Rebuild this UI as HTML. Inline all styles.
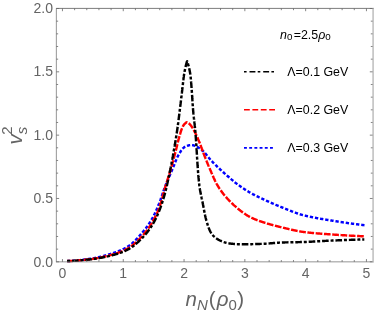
<!DOCTYPE html>
<html><head><meta charset="utf-8"><title>plot</title>
<style>html,body{margin:0;padding:0;background:#fff;}body{width:374px;height:312px;overflow:hidden;position:relative;font-family:"Liberation Sans",sans-serif;}svg{will-change:transform}</style>
</head><body>
<svg width="374" height="312" viewBox="0 0 374 312" style="position:absolute;left:0;top:0">
<rect x="0" y="0" width="374" height="312" fill="#fff"/>
<g fill="none" stroke-linecap="butt" stroke-linejoin="round">
<path d="M67.10,261.10 L67.50,261.09 L67.91,261.07 L68.31,261.06 L68.71,261.04 L69.11,261.02 L69.51,261.00 L69.92,260.98 L70.32,260.96 L70.72,260.94 L71.12,260.91 L71.52,260.89 L71.92,260.86 L72.32,260.83 L72.72,260.80 L73.13,260.77 L73.53,260.74 L73.93,260.71 L74.33,260.68 L74.73,260.65 L75.13,260.61 L75.52,260.57 L75.92,260.54 L76.32,260.50 L76.72,260.46 L77.12,260.42 L77.52,260.38 L77.92,260.34 L78.32,260.30 L78.71,260.26 L79.11,260.21 L79.51,260.17 L79.91,260.13 L80.31,260.08 L80.70,260.03 L81.10,259.99 L81.50,259.94 L81.89,259.89 L82.29,259.84 L82.69,259.79 L83.08,259.74 L83.48,259.69 L83.87,259.64 L84.27,259.59 L84.67,259.54 L85.06,259.49 L85.46,259.43 L85.85,259.38 L86.25,259.33 L86.64,259.27 L87.03,259.22 L87.43,259.16 L87.82,259.11 L88.22,259.05 L88.61,259.00 L89.00,258.94 L89.40,258.89 L89.79,258.83 L90.18,258.77 L90.57,258.72 L90.97,258.66 L91.36,258.59 L91.75,258.53 L92.15,258.47 L92.54,258.40 L92.93,258.33 L93.33,258.26 L93.72,258.19 L94.11,258.12 L94.51,258.05 L94.90,257.97 L95.29,257.89 L95.69,257.82 L96.08,257.74 L96.47,257.65 L96.87,257.57 L97.26,257.49 L97.65,257.40 L98.05,257.32 L98.44,257.23 L98.83,257.14 L99.22,257.05 L99.61,256.96 L100.01,256.86 L100.40,256.77 L100.79,256.67 L101.18,256.58 L101.57,256.48 L101.96,256.38 L102.35,256.28 L102.74,256.18 L103.13,256.08 L103.52,255.97 L103.91,255.87 L104.30,255.76 L104.69,255.66 L105.08,255.55 L105.47,255.44 L105.85,255.33 L106.24,255.22 L106.63,255.11 L107.01,254.99 L107.40,254.88 L107.78,254.77 L108.17,254.65 L108.55,254.53 L108.94,254.42 L109.32,254.30 L109.70,254.18 L110.09,254.06 L110.47,253.94 L110.85,253.82 L111.23,253.70 L111.61,253.57 L111.99,253.45 L112.37,253.33 L112.75,253.20 L113.12,253.08 L113.50,252.95 L113.88,252.83 L114.25,252.70 L114.63,252.57 L115.00,252.44 L115.37,252.31 L115.75,252.18 L116.12,252.05 L116.49,251.92 L116.87,251.78 L117.24,251.64 L117.62,251.50 L117.99,251.36 L118.37,251.21 L118.75,251.06 L119.12,250.91 L119.50,250.76 L119.87,250.60 L120.25,250.44 L120.62,250.28 L120.99,250.12 L121.36,249.95 L121.73,249.78 L122.10,249.61 L122.47,249.44 L122.84,249.26 L123.20,249.09 L123.57,248.91 L123.93,248.72 L124.29,248.54 L124.64,248.35 L125.00,248.17 L125.35,247.98 L125.70,247.78 L126.05,247.59 L126.39,247.39 L126.74,247.19 L127.08,246.99 L127.41,246.79 L127.74,246.58 L128.07,246.38 L128.40,246.17 L128.72,245.96 L129.04,245.74 L129.36,245.52 L129.67,245.29 L129.99,245.06 L130.30,244.83 L130.61,244.59 L130.92,244.35 L131.23,244.10 L131.54,243.85 L131.84,243.59 L132.15,243.33 L132.45,243.07 L132.75,242.81 L133.05,242.54 L133.35,242.27 L133.64,241.99 L133.94,241.72 L134.23,241.44 L134.52,241.16 L134.81,240.87 L135.10,240.58 L135.39,240.30 L135.67,240.01 L135.96,239.71 L136.24,239.42 L136.52,239.12 L136.80,238.83 L137.08,238.53 L137.36,238.23 L137.64,237.93 L137.91,237.63 L138.19,237.33 L138.46,237.03 L138.73,236.72 L139.00,236.42 L139.27,236.12 L139.54,235.82 L139.80,235.51 L140.07,235.21 L140.33,234.91 L140.60,234.61 L140.86,234.31 L141.12,234.01 L141.38,233.71 L141.64,233.41 L141.90,233.11 L142.15,232.81 L142.41,232.50 L142.67,232.20 L142.93,231.89 L143.18,231.59 L143.44,231.28 L143.69,230.97 L143.95,230.66 L144.20,230.34 L144.45,230.03 L144.70,229.72 L144.95,229.40 L145.20,229.08 L145.45,228.76 L145.69,228.45 L145.94,228.12 L146.18,227.80 L146.43,227.48 L146.67,227.16 L146.91,226.83 L147.15,226.51 L147.38,226.18 L147.62,225.85 L147.85,225.53 L148.09,225.20 L148.32,224.87 L148.54,224.54 L148.77,224.20 L149.00,223.87 L149.22,223.54 L149.44,223.20 L149.66,222.87 L149.88,222.53 L150.09,222.20 L150.30,221.86 L150.51,221.52 L150.72,221.18 L150.93,220.84 L151.13,220.50 L151.33,220.16 L151.53,219.82 L151.73,219.48 L151.92,219.14 L152.11,218.79 L152.30,218.44 L152.49,218.10 L152.68,217.75 L152.87,217.40 L153.05,217.04 L153.24,216.69 L153.42,216.34 L153.60,215.98 L153.78,215.62 L153.96,215.27 L154.14,214.91 L154.31,214.55 L154.49,214.19 L154.66,213.83 L154.83,213.46 L155.00,213.10 L155.17,212.74 L155.34,212.37 L155.51,212.01 L155.67,211.64 L155.84,211.27 L156.00,210.91 L156.17,210.54 L156.33,210.17 L156.49,209.80 L156.65,209.43 L156.81,209.06 L156.97,208.69 L157.12,208.32 L157.28,207.95 L157.44,207.58 L157.59,207.21 L157.75,206.83 L157.90,206.46 L158.05,206.09 L158.20,205.72 L158.36,205.35 L158.51,204.98 L158.66,204.61 L158.81,204.23 L158.96,203.86 L159.10,203.49 L159.25,203.12 L159.40,202.75 L159.54,202.38 L159.69,202.01 L159.83,201.63 L159.97,201.26 L160.11,200.89 L160.24,200.51 L160.38,200.13 L160.51,199.76 L160.65,199.38 L160.78,199.00 L160.91,198.63 L161.04,198.25 L161.17,197.87 L161.30,197.49 L161.43,197.11 L161.55,196.73 L161.68,196.35 L161.81,195.97 L161.94,195.59 L162.06,195.21 L162.19,194.83 L162.32,194.45 L162.44,194.07 L162.57,193.69 L162.70,193.31 L162.83,192.93 L162.95,192.55 L163.08,192.17 L163.21,191.79 L163.34,191.42 L163.48,191.04 L163.61,190.66 L163.74,190.28 L163.88,189.91 L164.02,189.53 L164.15,189.16 L164.29,188.78 L164.43,188.41 L164.58,188.04 L164.72,187.66 L164.86,187.29 L165.01,186.92 L165.15,186.54 L165.30,186.17 L165.45,185.80 L165.59,185.43 L165.74,185.06 L165.89,184.69 L166.04,184.31 L166.19,183.94 L166.34,183.57 L166.49,183.20 L166.64,182.83 L166.79,182.46 L166.94,182.09 L167.09,181.72 L167.24,181.35 L167.40,180.98 L167.55,180.61 L167.70,180.24 L167.86,179.87 L168.01,179.50 L168.17,179.13 L168.32,178.77 L168.48,178.40 L168.63,178.03 L168.79,177.66 L168.95,177.29 L169.10,176.92 L169.26,176.55 L169.42,176.19 L169.57,175.82 L169.73,175.45 L169.89,175.08 L170.05,174.71 L170.20,174.35 L170.36,173.98 L170.52,173.61 L170.68,173.24 L170.83,172.88 L170.99,172.51 L171.15,172.14 L171.31,171.77 L171.47,171.41 L171.63,171.04 L171.78,170.67 L171.94,170.30 L172.10,169.93 L172.26,169.57 L172.41,169.20 L172.57,168.83 L172.73,168.46 L172.88,168.09 L173.04,167.72 L173.19,167.35 L173.34,166.97 L173.49,166.60 L173.64,166.22 L173.79,165.85 L173.94,165.47 L174.08,165.10 L174.23,164.72 L174.38,164.34 L174.53,163.96 L174.68,163.58 L174.82,163.21 L174.97,162.83 L175.12,162.45 L175.27,162.08 L175.42,161.70 L175.57,161.33 L175.72,160.95 L175.88,160.58 L176.03,160.20 L176.19,159.83 L176.34,159.46 L176.50,159.10 L176.66,158.73 L176.83,158.36 L176.99,158.00 L177.16,157.64 L177.33,157.28 L177.50,156.92 L177.67,156.56 L177.85,156.21 L178.03,155.86 L178.21,155.51 L178.40,155.16 L178.59,154.82 L178.78,154.48 L178.97,154.14 L179.17,153.81 L179.38,153.48 L179.58,153.14 L179.80,152.79 L180.01,152.44 L180.23,152.09 L180.46,151.73 L180.69,151.38 L180.93,151.02 L181.17,150.66 L181.42,150.31 L181.67,149.97 L181.92,149.63 L182.18,149.30 L182.45,148.98 L182.72,148.67 L182.99,148.37 L183.27,148.08 L183.56,147.82 L183.85,147.57 L184.14,147.34 L184.44,147.13 L184.75,146.94 L185.06,146.77 L185.38,146.61 L185.72,146.45 L186.07,146.30 L186.44,146.14 L186.82,145.99 L187.20,145.84 L187.60,145.71 L188.00,145.58 L188.40,145.46 L188.81,145.35 L189.22,145.25 L189.63,145.17 L190.03,145.10 L190.44,145.05 L190.83,145.01 L191.23,145.00 L191.61,145.01 L192.00,145.05 L192.39,145.11 L192.79,145.19 L193.18,145.29 L193.57,145.40 L193.96,145.53 L194.35,145.67 L194.74,145.81 L195.12,145.95 L195.49,146.10 L195.86,146.25 L196.22,146.39 L196.58,146.54 L196.94,146.71 L197.30,146.89 L197.65,147.08 L198.01,147.28 L198.36,147.48 L198.70,147.70 L199.04,147.92 L199.38,148.15 L199.72,148.38 L200.05,148.62 L200.38,148.85 L200.70,149.10 L201.02,149.34 L201.33,149.58 L201.63,149.83 L201.93,150.07 L202.23,150.32 L202.52,150.58 L202.81,150.85 L203.10,151.11 L203.38,151.39 L203.66,151.67 L203.93,151.95 L204.21,152.24 L204.48,152.53 L204.75,152.82 L205.01,153.12 L205.28,153.42 L205.54,153.72 L205.80,154.03 L206.06,154.34 L206.31,154.65 L206.57,154.96 L206.83,155.28 L207.08,155.59 L207.34,155.91 L207.59,156.22 L207.84,156.54 L208.10,156.86 L208.35,157.17 L208.61,157.49 L208.86,157.81 L209.12,158.12 L209.37,158.43 L209.63,158.75 L209.89,159.06 L210.15,159.37 L210.42,159.67 L210.68,159.98 L210.95,160.28 L211.22,160.57 L211.49,160.87 L211.76,161.16 L212.04,161.45 L212.32,161.73 L212.60,162.02 L212.88,162.30 L213.16,162.59 L213.44,162.87 L213.72,163.16 L214.00,163.44 L214.29,163.72 L214.57,164.00 L214.85,164.29 L215.14,164.57 L215.42,164.85 L215.71,165.13 L216.00,165.41 L216.28,165.69 L216.57,165.97 L216.86,166.24 L217.15,166.52 L217.43,166.80 L217.72,167.08 L218.01,167.35 L218.30,167.63 L218.60,167.90 L218.89,168.18 L219.18,168.45 L219.47,168.73 L219.76,169.00 L220.06,169.27 L220.35,169.55 L220.64,169.82 L220.94,170.09 L221.23,170.36 L221.53,170.63 L221.82,170.90 L222.12,171.17 L222.41,171.44 L222.71,171.71 L223.01,171.98 L223.30,172.25 L223.60,172.52 L223.90,172.78 L224.19,173.05 L224.49,173.32 L224.79,173.58 L225.09,173.85 L225.39,174.11 L225.69,174.38 L225.99,174.64 L226.28,174.91 L226.58,175.17 L226.88,175.44 L227.18,175.70 L227.49,175.97 L227.79,176.23 L228.09,176.50 L228.39,176.76 L228.69,177.03 L228.99,177.29 L229.30,177.55 L229.60,177.81 L229.90,178.08 L230.21,178.34 L230.51,178.60 L230.82,178.86 L231.12,179.12 L231.43,179.38 L231.73,179.64 L232.04,179.89 L232.35,180.15 L232.66,180.41 L232.96,180.66 L233.27,180.92 L233.58,181.17 L233.89,181.43 L234.20,181.68 L234.52,181.93 L234.83,182.18 L235.14,182.43 L235.45,182.68 L235.77,182.92 L236.08,183.17 L236.40,183.41 L236.71,183.66 L237.03,183.90 L237.35,184.14 L237.67,184.38 L237.99,184.62 L238.31,184.86 L238.63,185.09 L238.95,185.33 L239.27,185.56 L239.59,185.80 L239.92,186.03 L240.24,186.26 L240.57,186.50 L240.90,186.73 L241.22,186.96 L241.55,187.19 L241.88,187.42 L242.21,187.65 L242.54,187.87 L242.87,188.10 L243.20,188.32 L243.54,188.55 L243.87,188.77 L244.20,188.99 L244.54,189.21 L244.87,189.43 L245.21,189.65 L245.55,189.87 L245.89,190.09 L246.22,190.30 L246.56,190.52 L246.90,190.73 L247.24,190.94 L247.58,191.15 L247.92,191.36 L248.27,191.57 L248.61,191.77 L248.95,191.97 L249.30,192.18 L249.64,192.38 L249.99,192.58 L250.33,192.77 L250.68,192.97 L251.03,193.17 L251.37,193.36 L251.72,193.55 L252.07,193.74 L252.43,193.93 L252.78,194.12 L253.13,194.30 L253.49,194.49 L253.84,194.67 L254.20,194.86 L254.55,195.04 L254.91,195.22 L255.27,195.40 L255.63,195.58 L255.98,195.76 L256.34,195.93 L256.70,196.11 L257.06,196.29 L257.42,196.46 L257.79,196.64 L258.15,196.81 L258.51,196.98 L258.87,197.16 L259.23,197.33 L259.59,197.50 L259.96,197.67 L260.32,197.84 L260.68,198.01 L261.04,198.18 L261.41,198.35 L261.77,198.52 L262.13,198.69 L262.49,198.86 L262.86,199.03 L263.22,199.20 L263.58,199.37 L263.94,199.54 L264.30,199.71 L264.67,199.88 L265.03,200.05 L265.39,200.21 L265.76,200.38 L266.12,200.55 L266.48,200.72 L266.85,200.88 L267.21,201.05 L267.57,201.21 L267.94,201.38 L268.30,201.55 L268.67,201.71 L269.03,201.88 L269.40,202.04 L269.76,202.20 L270.13,202.37 L270.49,202.53 L270.86,202.69 L271.23,202.86 L271.59,203.02 L271.96,203.18 L272.32,203.34 L272.69,203.50 L273.06,203.66 L273.43,203.82 L273.79,203.98 L274.16,204.14 L274.53,204.30 L274.89,204.46 L275.26,204.61 L275.63,204.77 L276.00,204.93 L276.37,205.08 L276.74,205.24 L277.10,205.40 L277.47,205.55 L277.84,205.70 L278.21,205.86 L278.58,206.01 L278.95,206.16 L279.32,206.32 L279.69,206.47 L280.06,206.62 L280.43,206.77 L280.80,206.92 L281.17,207.07 L281.54,207.22 L281.91,207.37 L282.28,207.51 L282.66,207.66 L283.03,207.81 L283.40,207.96 L283.77,208.11 L284.14,208.26 L284.51,208.41 L284.88,208.56 L285.26,208.71 L285.63,208.86 L286.00,209.02 L286.37,209.17 L286.74,209.32 L287.12,209.47 L287.49,209.62 L287.86,209.77 L288.23,209.92 L288.61,210.07 L288.98,210.22 L289.35,210.37 L289.73,210.52 L290.10,210.67 L290.47,210.82 L290.85,210.97 L291.22,211.12 L291.60,211.26 L291.97,211.41 L292.34,211.55 L292.72,211.70 L293.09,211.84 L293.47,211.98 L293.85,212.13 L294.22,212.27 L294.60,212.41 L294.97,212.54 L295.35,212.68 L295.73,212.82 L296.10,212.95 L296.48,213.09 L296.86,213.22 L297.24,213.35 L297.62,213.48 L297.99,213.61 L298.37,213.73 L298.75,213.86 L299.13,213.98 L299.51,214.10 L299.89,214.22 L300.27,214.34 L300.65,214.45 L301.03,214.57 L301.42,214.68 L301.80,214.79 L302.18,214.89 L302.56,215.00 L302.95,215.10 L303.33,215.20 L303.71,215.30 L304.10,215.40 L304.48,215.50 L304.87,215.59 L305.25,215.69 L305.64,215.78 L306.03,215.87 L306.41,215.96 L306.80,216.05 L307.19,216.14 L307.58,216.23 L307.97,216.32 L308.35,216.40 L308.74,216.49 L309.13,216.57 L309.52,216.66 L309.91,216.74 L310.31,216.82 L310.70,216.91 L311.09,216.99 L311.48,217.07 L311.87,217.15 L312.26,217.22 L312.66,217.30 L313.05,217.38 L313.44,217.46 L313.84,217.53 L314.23,217.61 L314.62,217.68 L315.02,217.76 L315.41,217.83 L315.81,217.91 L316.20,217.98 L316.59,218.05 L316.99,218.12 L317.38,218.19 L317.78,218.26 L318.17,218.33 L318.57,218.40 L318.97,218.47 L319.36,218.54 L319.76,218.61 L320.15,218.68 L320.55,218.75 L320.94,218.82 L321.34,218.88 L321.74,218.95 L322.13,219.02 L322.53,219.08 L322.92,219.15 L323.32,219.22 L323.72,219.28 L324.11,219.35 L324.51,219.41 L324.90,219.48 L325.30,219.54 L325.69,219.61 L326.09,219.67 L326.49,219.74 L326.88,219.80 L327.28,219.87 L327.67,219.93 L328.07,220.00 L328.46,220.06 L328.86,220.13 L329.25,220.19 L329.64,220.26 L330.04,220.32 L330.43,220.39 L330.83,220.45 L331.22,220.51 L331.62,220.58 L332.01,220.64 L332.41,220.71 L332.80,220.77 L333.20,220.83 L333.59,220.90 L333.98,220.96 L334.38,221.02 L334.77,221.08 L335.17,221.15 L335.56,221.21 L335.96,221.27 L336.35,221.33 L336.75,221.40 L337.14,221.46 L337.54,221.52 L337.93,221.58 L338.33,221.64 L338.72,221.70 L339.12,221.76 L339.51,221.83 L339.91,221.89 L340.31,221.95 L340.70,222.01 L341.10,222.07 L341.49,222.13 L341.89,222.19 L342.28,222.24 L342.68,222.30 L343.07,222.36 L343.47,222.42 L343.86,222.48 L344.26,222.54 L344.66,222.60 L345.05,222.66 L345.45,222.71 L345.84,222.77 L346.24,222.83 L346.64,222.89 L347.03,222.94 L347.43,223.00 L347.82,223.06 L348.22,223.11 L348.62,223.17 L349.01,223.22 L349.41,223.28 L349.80,223.33 L350.20,223.39 L350.60,223.44 L350.99,223.50 L351.39,223.55 L351.79,223.61 L352.18,223.66 L352.58,223.72 L352.98,223.77 L353.37,223.82 L353.77,223.88 L354.17,223.93 L354.56,223.98 L354.96,224.03 L355.36,224.09 L355.75,224.14 L356.15,224.19 L356.55,224.24 L356.94,224.29 L357.34,224.34 L357.74,224.39 L358.13,224.44 L358.53,224.49 L358.93,224.54 L359.33,224.59 L359.72,224.64 L360.12,224.69 L360.52,224.74 L360.92,224.79 L361.31,224.83 L361.71,224.88 L362.11,224.93 L362.51,224.98 L362.90,225.02 L363.30,225.07 L363.70,225.12 L364.10,225.16 L364.49,225.21 L364.89,225.25 L365.29,225.30 L365.30,225.30" stroke="#0000ff" stroke-width="2.45" stroke-dasharray="3.3 1.9"/>
<path d="M67.10,261.10 L67.50,261.09 L67.90,261.08 L68.31,261.07 L68.71,261.06 L69.11,261.04 L69.51,261.03 L69.91,261.01 L70.31,260.99 L70.72,260.97 L71.12,260.96 L71.52,260.93 L71.92,260.91 L72.32,260.89 L72.72,260.87 L73.12,260.84 L73.52,260.82 L73.92,260.79 L74.32,260.77 L74.72,260.74 L75.12,260.71 L75.52,260.68 L75.92,260.65 L76.32,260.62 L76.72,260.59 L77.12,260.55 L77.52,260.52 L77.92,260.49 L78.32,260.45 L78.71,260.42 L79.11,260.38 L79.51,260.34 L79.91,260.31 L80.31,260.27 L80.71,260.23 L81.10,260.19 L81.50,260.15 L81.90,260.11 L82.30,260.07 L82.69,260.03 L83.09,259.99 L83.49,259.94 L83.89,259.90 L84.28,259.86 L84.68,259.81 L85.08,259.77 L85.47,259.73 L85.87,259.68 L86.26,259.64 L86.66,259.59 L87.06,259.55 L87.45,259.50 L87.85,259.45 L88.24,259.41 L88.64,259.36 L89.03,259.31 L89.43,259.27 L89.82,259.22 L90.22,259.17 L90.61,259.13 L91.01,259.07 L91.40,259.02 L91.80,258.97 L92.19,258.92 L92.59,258.86 L92.99,258.80 L93.38,258.75 L93.78,258.69 L94.17,258.63 L94.57,258.56 L94.97,258.50 L95.36,258.44 L95.76,258.37 L96.15,258.30 L96.55,258.23 L96.95,258.17 L97.34,258.09 L97.74,258.02 L98.13,257.95 L98.53,257.88 L98.92,257.80 L99.32,257.72 L99.71,257.65 L100.11,257.57 L100.50,257.49 L100.90,257.41 L101.29,257.32 L101.69,257.24 L102.08,257.16 L102.47,257.07 L102.87,256.98 L103.26,256.90 L103.65,256.81 L104.05,256.72 L104.44,256.63 L104.83,256.54 L105.22,256.44 L105.61,256.35 L106.01,256.26 L106.40,256.16 L106.79,256.07 L107.18,255.97 L107.57,255.87 L107.95,255.77 L108.34,255.67 L108.73,255.57 L109.12,255.47 L109.51,255.37 L109.89,255.26 L110.28,255.16 L110.66,255.06 L111.05,254.95 L111.43,254.84 L111.82,254.74 L112.20,254.63 L112.58,254.52 L112.97,254.41 L113.35,254.30 L113.73,254.19 L114.11,254.08 L114.49,253.96 L114.87,253.85 L115.25,253.74 L115.62,253.62 L116.00,253.51 L116.38,253.39 L116.76,253.27 L117.14,253.14 L117.51,253.01 L117.89,252.88 L118.27,252.75 L118.65,252.61 L119.03,252.47 L119.41,252.33 L119.79,252.19 L120.17,252.04 L120.54,251.89 L120.92,251.74 L121.30,251.58 L121.67,251.43 L122.04,251.27 L122.42,251.11 L122.79,250.94 L123.16,250.77 L123.52,250.60 L123.89,250.43 L124.26,250.26 L124.62,250.08 L124.98,249.91 L125.34,249.73 L125.70,249.55 L126.05,249.36 L126.40,249.18 L126.75,248.99 L127.10,248.80 L127.44,248.61 L127.78,248.42 L128.12,248.22 L128.46,248.03 L128.79,247.83 L129.12,247.62 L129.45,247.42 L129.78,247.20 L130.11,246.99 L130.43,246.77 L130.76,246.54 L131.08,246.31 L131.40,246.08 L131.72,245.84 L132.04,245.60 L132.36,245.36 L132.68,245.11 L132.99,244.86 L133.31,244.61 L133.62,244.35 L133.93,244.09 L134.24,243.83 L134.55,243.57 L134.86,243.30 L135.16,243.03 L135.47,242.76 L135.77,242.49 L136.07,242.22 L136.37,241.94 L136.67,241.66 L136.96,241.38 L137.26,241.10 L137.55,240.82 L137.84,240.53 L138.13,240.25 L138.42,239.97 L138.71,239.68 L138.99,239.39 L139.28,239.11 L139.56,238.82 L139.84,238.53 L140.12,238.24 L140.39,237.96 L140.67,237.67 L140.94,237.38 L141.21,237.09 L141.48,236.81 L141.75,236.52 L142.02,236.23 L142.29,235.93 L142.55,235.64 L142.82,235.34 L143.08,235.04 L143.35,234.74 L143.61,234.44 L143.87,234.14 L144.13,233.83 L144.39,233.53 L144.65,233.22 L144.91,232.91 L145.16,232.60 L145.42,232.28 L145.67,231.97 L145.92,231.65 L146.17,231.34 L146.42,231.02 L146.67,230.70 L146.92,230.38 L147.16,230.06 L147.40,229.73 L147.64,229.41 L147.88,229.08 L148.12,228.76 L148.36,228.43 L148.59,228.10 L148.82,227.77 L149.05,227.44 L149.28,227.11 L149.51,226.78 L149.73,226.45 L149.95,226.11 L150.17,225.78 L150.39,225.44 L150.60,225.11 L150.82,224.77 L151.03,224.44 L151.24,224.10 L151.44,223.76 L151.65,223.42 L151.85,223.09 L152.05,222.75 L152.25,222.40 L152.45,222.06 L152.64,221.72 L152.84,221.37 L153.04,221.02 L153.23,220.67 L153.42,220.32 L153.62,219.97 L153.81,219.62 L154.00,219.27 L154.19,218.91 L154.37,218.56 L154.56,218.20 L154.74,217.84 L154.93,217.49 L155.11,217.13 L155.29,216.77 L155.47,216.40 L155.65,216.04 L155.82,215.68 L156.00,215.32 L156.17,214.95 L156.34,214.59 L156.51,214.22 L156.68,213.85 L156.85,213.49 L157.01,213.12 L157.18,212.75 L157.34,212.38 L157.50,212.01 L157.66,211.64 L157.81,211.27 L157.97,210.90 L158.12,210.53 L158.27,210.16 L158.42,209.79 L158.57,209.42 L158.71,209.05 L158.86,208.68 L159.00,208.31 L159.14,207.93 L159.28,207.56 L159.41,207.19 L159.55,206.82 L159.68,206.44 L159.81,206.07 L159.93,205.69 L160.06,205.31 L160.18,204.94 L160.30,204.56 L160.42,204.18 L160.54,203.80 L160.66,203.42 L160.78,203.03 L160.89,202.65 L161.00,202.27 L161.12,201.88 L161.23,201.50 L161.34,201.12 L161.45,200.73 L161.55,200.34 L161.66,199.96 L161.77,199.57 L161.87,199.18 L161.98,198.80 L162.09,198.41 L162.19,198.02 L162.29,197.63 L162.40,197.25 L162.50,196.86 L162.61,196.47 L162.71,196.08 L162.81,195.69 L162.92,195.31 L163.02,194.92 L163.13,194.53 L163.23,194.14 L163.34,193.76 L163.44,193.37 L163.55,192.98 L163.66,192.59 L163.76,192.21 L163.87,191.82 L163.98,191.44 L164.09,191.05 L164.20,190.67 L164.32,190.28 L164.43,189.90 L164.54,189.52 L164.66,189.13 L164.77,188.75 L164.89,188.37 L165.01,187.98 L165.12,187.60 L165.24,187.22 L165.35,186.84 L165.47,186.45 L165.59,186.07 L165.71,185.69 L165.82,185.31 L165.94,184.92 L166.06,184.54 L166.18,184.16 L166.30,183.78 L166.42,183.40 L166.53,183.01 L166.65,182.63 L166.77,182.25 L166.89,181.87 L167.01,181.49 L167.13,181.10 L167.25,180.72 L167.37,180.34 L167.48,179.96 L167.60,179.58 L167.72,179.19 L167.84,178.81 L167.96,178.43 L168.08,178.05 L168.20,177.66 L168.31,177.28 L168.43,176.90 L168.55,176.52 L168.67,176.14 L168.78,175.75 L168.90,175.37 L169.02,174.99 L169.13,174.61 L169.25,174.22 L169.37,173.84 L169.48,173.46 L169.60,173.07 L169.71,172.69 L169.83,172.31 L169.94,171.93 L170.06,171.54 L170.17,171.16 L170.28,170.77 L170.40,170.39 L170.51,170.01 L170.62,169.62 L170.73,169.24 L170.84,168.85 L170.95,168.47 L171.06,168.09 L171.17,167.70 L171.28,167.32 L171.39,166.93 L171.50,166.55 L171.61,166.16 L171.72,165.78 L171.83,165.39 L171.93,165.01 L172.04,164.62 L172.15,164.24 L172.26,163.85 L172.36,163.47 L172.47,163.08 L172.58,162.70 L172.68,162.31 L172.79,161.92 L172.90,161.54 L173.00,161.15 L173.11,160.77 L173.21,160.38 L173.32,159.99 L173.42,159.61 L173.53,159.22 L173.63,158.84 L173.74,158.45 L173.84,158.06 L173.94,157.68 L174.05,157.29 L174.15,156.90 L174.26,156.52 L174.36,156.13 L174.46,155.75 L174.56,155.36 L174.67,154.97 L174.77,154.59 L174.87,154.20 L174.97,153.81 L175.08,153.43 L175.18,153.04 L175.28,152.65 L175.38,152.27 L175.48,151.88 L175.58,151.49 L175.68,151.10 L175.78,150.72 L175.88,150.33 L175.98,149.94 L176.07,149.55 L176.17,149.16 L176.26,148.77 L176.36,148.38 L176.45,147.99 L176.54,147.60 L176.64,147.21 L176.73,146.82 L176.82,146.44 L176.92,146.05 L177.01,145.66 L177.10,145.27 L177.19,144.88 L177.29,144.49 L177.38,144.10 L177.48,143.71 L177.57,143.32 L177.66,142.93 L177.76,142.54 L177.86,142.15 L177.95,141.77 L178.05,141.38 L178.15,140.99 L178.25,140.60 L178.35,140.22 L178.45,139.83 L178.55,139.44 L178.66,139.06 L178.76,138.67 L178.87,138.29 L178.98,137.90 L179.09,137.52 L179.20,137.14 L179.31,136.76 L179.43,136.37 L179.54,135.99 L179.65,135.60 L179.76,135.21 L179.88,134.82 L179.99,134.43 L180.10,134.04 L180.21,133.65 L180.33,133.26 L180.44,132.86 L180.56,132.47 L180.68,132.08 L180.80,131.69 L180.92,131.31 L181.05,130.92 L181.18,130.53 L181.31,130.15 L181.44,129.77 L181.58,129.40 L181.72,129.02 L181.87,128.65 L182.01,128.28 L182.17,127.92 L182.33,127.56 L182.49,127.21 L182.66,126.86 L182.83,126.51 L183.01,126.17 L183.19,125.83 L183.40,125.50 L183.62,125.16 L183.86,124.83 L184.12,124.50 L184.38,124.19 L184.66,123.89 L184.94,123.61 L185.24,123.35 L185.54,123.10 L185.88,122.83 L186.23,122.58 L186.59,122.39 L186.95,122.30 L187.30,122.35 L187.66,122.50 L188.02,122.72 L188.38,122.98 L188.71,123.23 L189.02,123.47 L189.32,123.73 L189.61,124.01 L189.89,124.30 L190.16,124.61 L190.42,124.92 L190.67,125.23 L190.91,125.54 L191.15,125.86 L191.38,126.18 L191.61,126.50 L191.83,126.83 L192.05,127.16 L192.27,127.50 L192.48,127.84 L192.69,128.18 L192.89,128.53 L193.10,128.87 L193.30,129.22 L193.50,129.58 L193.69,129.93 L193.88,130.28 L194.08,130.64 L194.26,131.00 L194.45,131.35 L194.64,131.71 L194.82,132.07 L195.01,132.42 L195.19,132.78 L195.37,133.13 L195.55,133.49 L195.72,133.85 L195.90,134.20 L196.07,134.56 L196.25,134.92 L196.42,135.28 L196.59,135.65 L196.75,136.01 L196.92,136.37 L197.09,136.74 L197.25,137.10 L197.41,137.47 L197.57,137.84 L197.73,138.21 L197.89,138.57 L198.05,138.94 L198.20,139.31 L198.36,139.68 L198.51,140.05 L198.67,140.42 L198.82,140.79 L198.97,141.16 L199.13,141.53 L199.28,141.90 L199.43,142.28 L199.58,142.65 L199.73,143.02 L199.88,143.39 L200.02,143.76 L200.17,144.13 L200.31,144.50 L200.45,144.88 L200.59,145.25 L200.73,145.63 L200.87,146.00 L201.01,146.38 L201.15,146.75 L201.28,147.13 L201.42,147.51 L201.55,147.88 L201.69,148.26 L201.82,148.64 L201.96,149.01 L202.09,149.39 L202.23,149.77 L202.36,150.14 L202.50,150.52 L202.63,150.90 L202.77,151.27 L202.91,151.65 L203.04,152.03 L203.18,152.40 L203.32,152.77 L203.47,153.15 L203.61,153.52 L203.75,153.90 L203.90,154.27 L204.04,154.64 L204.19,155.01 L204.33,155.39 L204.48,155.76 L204.62,156.13 L204.77,156.50 L204.91,156.88 L205.06,157.25 L205.21,157.62 L205.36,157.99 L205.50,158.37 L205.65,158.74 L205.80,159.11 L205.95,159.48 L206.10,159.85 L206.24,160.22 L206.39,160.59 L206.54,160.97 L206.69,161.34 L206.84,161.71 L207.00,162.08 L207.15,162.45 L207.30,162.82 L207.45,163.19 L207.60,163.56 L207.76,163.93 L207.91,164.30 L208.06,164.67 L208.22,165.04 L208.37,165.41 L208.53,165.77 L208.68,166.14 L208.84,166.51 L208.99,166.88 L209.15,167.25 L209.30,167.62 L209.46,167.98 L209.62,168.35 L209.78,168.72 L209.94,169.08 L210.10,169.45 L210.25,169.82 L210.41,170.19 L210.57,170.56 L210.73,170.93 L210.88,171.29 L211.04,171.66 L211.20,172.03 L211.35,172.40 L211.51,172.77 L211.67,173.14 L211.83,173.51 L211.99,173.88 L212.14,174.25 L212.30,174.62 L212.46,174.99 L212.62,175.36 L212.78,175.73 L212.94,176.10 L213.10,176.46 L213.27,176.83 L213.43,177.20 L213.59,177.57 L213.76,177.93 L213.92,178.30 L214.09,178.66 L214.26,179.03 L214.43,179.39 L214.60,179.75 L214.77,180.11 L214.94,180.47 L215.12,180.83 L215.29,181.19 L215.47,181.55 L215.65,181.91 L215.83,182.26 L216.01,182.62 L216.19,182.97 L216.38,183.32 L216.56,183.67 L216.75,184.02 L216.94,184.37 L217.14,184.71 L217.33,185.05 L217.53,185.40 L217.73,185.74 L217.93,186.08 L218.14,186.42 L218.35,186.76 L218.56,187.10 L218.77,187.44 L218.98,187.78 L219.20,188.12 L219.42,188.45 L219.64,188.79 L219.87,189.12 L220.09,189.46 L220.32,189.79 L220.55,190.12 L220.78,190.45 L221.02,190.78 L221.25,191.11 L221.49,191.43 L221.73,191.76 L221.97,192.08 L222.21,192.40 L222.45,192.72 L222.70,193.04 L222.94,193.36 L223.19,193.67 L223.44,193.98 L223.68,194.30 L223.93,194.61 L224.18,194.91 L224.44,195.22 L224.69,195.53 L224.94,195.83 L225.20,196.13 L225.45,196.44 L225.71,196.74 L225.97,197.04 L226.24,197.34 L226.50,197.64 L226.77,197.94 L227.03,198.24 L227.30,198.54 L227.57,198.83 L227.84,199.13 L228.12,199.42 L228.39,199.72 L228.67,200.01 L228.94,200.30 L229.22,200.59 L229.50,200.88 L229.78,201.17 L230.07,201.46 L230.35,201.75 L230.63,202.03 L230.92,202.31 L231.21,202.60 L231.50,202.88 L231.79,203.16 L232.08,203.44 L232.37,203.72 L232.66,203.99 L232.95,204.27 L233.25,204.54 L233.54,204.82 L233.84,205.09 L234.14,205.36 L234.43,205.63 L234.73,205.89 L235.03,206.16 L235.33,206.42 L235.63,206.68 L235.93,206.94 L236.23,207.20 L236.54,207.46 L236.84,207.72 L237.14,207.97 L237.45,208.22 L237.75,208.48 L238.06,208.73 L238.37,208.98 L238.68,209.23 L238.99,209.48 L239.30,209.74 L239.62,209.99 L239.93,210.24 L240.25,210.49 L240.56,210.74 L240.88,210.98 L241.20,211.23 L241.52,211.48 L241.84,211.72 L242.17,211.96 L242.49,212.20 L242.82,212.44 L243.15,212.68 L243.47,212.92 L243.80,213.15 L244.13,213.39 L244.46,213.62 L244.80,213.85 L245.13,214.07 L245.46,214.30 L245.80,214.52 L246.14,214.74 L246.48,214.95 L246.81,215.17 L247.15,215.38 L247.49,215.59 L247.84,215.79 L248.18,215.99 L248.52,216.19 L248.87,216.39 L249.21,216.58 L249.56,216.77 L249.91,216.95 L250.26,217.13 L250.61,217.31 L250.96,217.48 L251.32,217.66 L251.67,217.83 L252.03,218.00 L252.39,218.16 L252.75,218.33 L253.12,218.49 L253.48,218.65 L253.85,218.81 L254.22,218.97 L254.59,219.12 L254.96,219.28 L255.33,219.43 L255.70,219.58 L256.08,219.73 L256.45,219.88 L256.83,220.02 L257.20,220.17 L257.58,220.31 L257.96,220.45 L258.34,220.59 L258.72,220.73 L259.10,220.86 L259.48,221.00 L259.86,221.13 L260.24,221.27 L260.62,221.40 L261.00,221.53 L261.38,221.66 L261.76,221.79 L262.14,221.91 L262.51,222.04 L262.89,222.16 L263.27,222.29 L263.65,222.41 L264.03,222.53 L264.41,222.66 L264.79,222.78 L265.17,222.90 L265.55,223.01 L265.93,223.13 L266.31,223.25 L266.70,223.36 L267.08,223.48 L267.46,223.59 L267.85,223.71 L268.23,223.82 L268.61,223.93 L269.00,224.04 L269.38,224.15 L269.77,224.26 L270.15,224.37 L270.54,224.48 L270.93,224.58 L271.31,224.69 L271.70,224.79 L272.09,224.90 L272.47,225.00 L272.86,225.11 L273.25,225.21 L273.64,225.31 L274.02,225.41 L274.41,225.51 L274.80,225.62 L275.19,225.72 L275.58,225.82 L275.96,225.91 L276.35,226.01 L276.74,226.11 L277.13,226.21 L277.52,226.31 L277.91,226.40 L278.30,226.50 L278.68,226.60 L279.07,226.69 L279.46,226.79 L279.85,226.88 L280.24,226.98 L280.63,227.07 L281.02,227.16 L281.41,227.26 L281.79,227.35 L282.18,227.44 L282.57,227.54 L282.96,227.63 L283.35,227.73 L283.74,227.82 L284.13,227.91 L284.52,228.01 L284.90,228.10 L285.29,228.20 L285.68,228.30 L286.07,228.39 L286.46,228.49 L286.85,228.58 L287.24,228.68 L287.63,228.77 L288.02,228.87 L288.41,228.96 L288.80,229.06 L289.19,229.15 L289.58,229.24 L289.97,229.34 L290.36,229.43 L290.75,229.52 L291.14,229.61 L291.53,229.70 L291.92,229.79 L292.32,229.88 L292.71,229.97 L293.10,230.06 L293.49,230.15 L293.88,230.24 L294.27,230.32 L294.66,230.41 L295.06,230.49 L295.45,230.57 L295.84,230.65 L296.23,230.74 L296.62,230.81 L297.02,230.89 L297.41,230.97 L297.80,231.05 L298.19,231.12 L298.59,231.19 L298.98,231.27 L299.37,231.34 L299.77,231.40 L300.16,231.47 L300.55,231.54 L300.95,231.60 L301.34,231.66 L301.73,231.72 L302.13,231.78 L302.52,231.84 L302.92,231.90 L303.31,231.95 L303.71,232.00 L304.10,232.05 L304.50,232.10 L304.89,232.15 L305.29,232.20 L305.68,232.24 L306.08,232.29 L306.47,232.34 L306.87,232.38 L307.27,232.43 L307.66,232.47 L308.06,232.52 L308.46,232.56 L308.85,232.60 L309.25,232.65 L309.65,232.69 L310.05,232.73 L310.44,232.77 L310.84,232.81 L311.24,232.85 L311.64,232.89 L312.04,232.93 L312.43,232.97 L312.83,233.00 L313.23,233.04 L313.63,233.08 L314.03,233.11 L314.43,233.15 L314.83,233.19 L315.22,233.22 L315.62,233.26 L316.02,233.29 L316.42,233.33 L316.82,233.36 L317.22,233.39 L317.62,233.43 L318.02,233.46 L318.42,233.49 L318.82,233.52 L319.22,233.56 L319.62,233.59 L320.02,233.62 L320.42,233.65 L320.82,233.68 L321.22,233.71 L321.61,233.74 L322.01,233.77 L322.41,233.80 L322.81,233.83 L323.21,233.86 L323.61,233.89 L324.01,233.92 L324.41,233.95 L324.81,233.98 L325.21,234.01 L325.61,234.04 L326.01,234.07 L326.41,234.09 L326.81,234.12 L327.21,234.15 L327.61,234.18 L328.01,234.21 L328.41,234.24 L328.80,234.26 L329.20,234.29 L329.60,234.32 L330.00,234.35 L330.40,234.38 L330.80,234.41 L331.20,234.43 L331.60,234.46 L332.00,234.49 L332.39,234.52 L332.79,234.54 L333.19,234.57 L333.59,234.60 L333.99,234.63 L334.39,234.65 L334.79,234.68 L335.19,234.71 L335.59,234.73 L335.99,234.76 L336.38,234.79 L336.78,234.81 L337.18,234.84 L337.58,234.87 L337.98,234.89 L338.38,234.92 L338.78,234.95 L339.18,234.97 L339.58,235.00 L339.98,235.02 L340.38,235.05 L340.77,235.07 L341.17,235.10 L341.57,235.12 L341.97,235.15 L342.37,235.17 L342.77,235.20 L343.17,235.22 L343.57,235.25 L343.97,235.27 L344.37,235.30 L344.77,235.32 L345.17,235.34 L345.57,235.37 L345.96,235.39 L346.36,235.42 L346.76,235.44 L347.16,235.46 L347.56,235.49 L347.96,235.51 L348.36,235.53 L348.76,235.55 L349.16,235.58 L349.56,235.60 L349.96,235.62 L350.36,235.64 L350.76,235.67 L351.16,235.69 L351.56,235.71 L351.96,235.73 L352.36,235.75 L352.75,235.77 L353.15,235.79 L353.55,235.81 L353.95,235.83 L354.35,235.85 L354.75,235.87 L355.15,235.90 L355.55,235.91 L355.95,235.93 L356.35,235.95 L356.75,235.97 L357.15,235.99 L357.55,236.01 L357.95,236.03 L358.35,236.05 L358.75,236.07 L359.15,236.08 L359.55,236.10 L359.95,236.12 L360.35,236.14 L360.75,236.16 L361.15,236.17 L361.55,236.19 L361.95,236.21 L362.35,236.22 L362.75,236.24 L363.15,236.25 L363.55,236.27 L363.95,236.29 L364.30,236.30" stroke="#ff0000" stroke-width="2.45" stroke-dasharray="6.7 1.6"/>
<path d="M67.10,261.10 L67.50,261.09 L67.90,261.08 L68.31,261.07 L68.71,261.06 L69.11,261.05 L69.51,261.04 L69.91,261.02 L70.31,261.01 L70.71,260.99 L71.11,260.98 L71.52,260.96 L71.92,260.94 L72.32,260.92 L72.72,260.90 L73.12,260.88 L73.52,260.86 L73.92,260.83 L74.32,260.81 L74.72,260.78 L75.12,260.76 L75.52,260.73 L75.92,260.70 L76.32,260.68 L76.72,260.65 L77.12,260.62 L77.52,260.59 L77.92,260.56 L78.31,260.53 L78.71,260.49 L79.11,260.46 L79.51,260.43 L79.91,260.40 L80.31,260.36 L80.71,260.33 L81.10,260.29 L81.50,260.26 L81.90,260.22 L82.30,260.18 L82.70,260.14 L83.09,260.11 L83.49,260.07 L83.89,260.03 L84.29,259.99 L84.68,259.95 L85.08,259.91 L85.48,259.87 L85.88,259.83 L86.27,259.79 L86.67,259.75 L87.07,259.71 L87.46,259.67 L87.86,259.63 L88.25,259.59 L88.65,259.54 L89.05,259.50 L89.44,259.46 L89.84,259.42 L90.23,259.37 L90.63,259.33 L91.03,259.29 L91.42,259.24 L91.82,259.19 L92.21,259.14 L92.61,259.09 L93.01,259.04 L93.40,258.99 L93.80,258.93 L94.20,258.88 L94.59,258.82 L94.99,258.76 L95.39,258.71 L95.78,258.65 L96.18,258.58 L96.58,258.52 L96.97,258.46 L97.37,258.39 L97.77,258.33 L98.16,258.26 L98.56,258.19 L98.96,258.12 L99.35,258.05 L99.75,257.98 L100.14,257.91 L100.54,257.84 L100.94,257.76 L101.33,257.69 L101.73,257.61 L102.12,257.54 L102.52,257.46 L102.91,257.38 L103.30,257.30 L103.70,257.22 L104.09,257.13 L104.49,257.05 L104.88,256.97 L105.27,256.88 L105.67,256.80 L106.06,256.71 L106.45,256.62 L106.84,256.54 L107.23,256.45 L107.62,256.36 L108.02,256.27 L108.41,256.17 L108.80,256.08 L109.19,255.99 L109.57,255.89 L109.96,255.80 L110.35,255.70 L110.74,255.61 L111.13,255.51 L111.51,255.41 L111.90,255.31 L112.29,255.21 L112.67,255.11 L113.06,255.01 L113.44,254.91 L113.82,254.81 L114.21,254.71 L114.59,254.60 L114.97,254.50 L115.35,254.40 L115.73,254.29 L116.12,254.18 L116.50,254.07 L116.88,253.96 L117.26,253.85 L117.64,253.73 L118.03,253.61 L118.41,253.48 L118.79,253.36 L119.18,253.23 L119.56,253.10 L119.94,252.96 L120.33,252.83 L120.71,252.69 L121.09,252.55 L121.47,252.41 L121.85,252.26 L122.23,252.11 L122.60,251.96 L122.98,251.81 L123.35,251.65 L123.72,251.50 L124.10,251.34 L124.46,251.18 L124.83,251.01 L125.20,250.85 L125.56,250.68 L125.92,250.51 L126.28,250.34 L126.64,250.16 L126.99,249.99 L127.34,249.81 L127.69,249.63 L128.04,249.45 L128.38,249.27 L128.72,249.08 L129.06,248.89 L129.39,248.69 L129.73,248.49 L130.07,248.29 L130.40,248.08 L130.73,247.87 L131.06,247.65 L131.39,247.43 L131.72,247.20 L132.05,246.97 L132.38,246.74 L132.70,246.50 L133.03,246.26 L133.35,246.02 L133.67,245.77 L133.99,245.52 L134.31,245.27 L134.62,245.02 L134.94,244.76 L135.25,244.50 L135.56,244.24 L135.87,243.97 L136.18,243.71 L136.49,243.44 L136.80,243.17 L137.10,242.90 L137.40,242.63 L137.70,242.35 L138.00,242.08 L138.30,241.80 L138.60,241.53 L138.89,241.25 L139.18,240.97 L139.47,240.69 L139.76,240.41 L140.05,240.13 L140.34,239.86 L140.62,239.58 L140.90,239.30 L141.18,239.02 L141.46,238.74 L141.74,238.46 L142.01,238.18 L142.29,237.89 L142.56,237.61 L142.84,237.32 L143.11,237.03 L143.38,236.74 L143.65,236.44 L143.92,236.14 L144.19,235.85 L144.46,235.55 L144.73,235.24 L144.99,234.94 L145.26,234.64 L145.52,234.33 L145.78,234.02 L146.04,233.71 L146.30,233.40 L146.56,233.09 L146.81,232.77 L147.07,232.46 L147.32,232.14 L147.57,231.82 L147.81,231.50 L148.06,231.18 L148.31,230.86 L148.55,230.54 L148.79,230.22 L149.03,229.89 L149.26,229.56 L149.50,229.24 L149.73,228.91 L149.96,228.58 L150.18,228.25 L150.41,227.92 L150.63,227.59 L150.85,227.26 L151.07,226.93 L151.28,226.60 L151.49,226.27 L151.70,225.93 L151.91,225.60 L152.12,225.26 L152.32,224.93 L152.53,224.59 L152.73,224.24 L152.93,223.90 L153.13,223.56 L153.33,223.21 L153.52,222.86 L153.72,222.51 L153.91,222.16 L154.11,221.81 L154.30,221.46 L154.49,221.11 L154.68,220.75 L154.86,220.40 L155.05,220.04 L155.23,219.68 L155.42,219.32 L155.60,218.96 L155.78,218.60 L155.96,218.24 L156.13,217.88 L156.31,217.51 L156.48,217.15 L156.66,216.79 L156.83,216.42 L157.00,216.05 L157.16,215.69 L157.33,215.32 L157.50,214.95 L157.66,214.59 L157.82,214.22 L157.98,213.85 L158.14,213.48 L158.30,213.11 L158.46,212.75 L158.61,212.38 L158.77,212.01 L158.92,211.64 L159.07,211.27 L159.22,210.90 L159.37,210.53 L159.51,210.16 L159.66,209.79 L159.80,209.42 L159.94,209.05 L160.08,208.68 L160.22,208.31 L160.36,207.93 L160.50,207.56 L160.64,207.18 L160.77,206.80 L160.91,206.43 L161.04,206.05 L161.17,205.67 L161.30,205.29 L161.43,204.91 L161.56,204.54 L161.69,204.16 L161.82,203.77 L161.94,203.39 L162.07,203.01 L162.19,202.63 L162.31,202.25 L162.43,201.87 L162.56,201.48 L162.68,201.10 L162.80,200.72 L162.91,200.33 L163.03,199.95 L163.15,199.57 L163.26,199.18 L163.38,198.80 L163.50,198.41 L163.61,198.03 L163.72,197.65 L163.83,197.26 L163.95,196.88 L164.06,196.49 L164.17,196.11 L164.28,195.72 L164.39,195.34 L164.50,194.96 L164.61,194.57 L164.71,194.19 L164.82,193.80 L164.92,193.42 L165.03,193.03 L165.13,192.64 L165.24,192.26 L165.34,191.87 L165.44,191.48 L165.54,191.09 L165.64,190.71 L165.74,190.32 L165.84,189.93 L165.93,189.54 L166.03,189.15 L166.12,188.76 L166.22,188.38 L166.31,187.99 L166.40,187.60 L166.50,187.21 L166.59,186.82 L166.68,186.43 L166.77,186.04 L166.86,185.65 L166.94,185.26 L167.03,184.87 L167.12,184.48 L167.20,184.09 L167.29,183.70 L167.37,183.31 L167.46,182.92 L167.54,182.53 L167.63,182.14 L167.71,181.75 L167.80,181.36 L167.88,180.97 L167.97,180.58 L168.05,180.18 L168.14,179.79 L168.22,179.40 L168.30,179.01 L168.39,178.62 L168.47,178.23 L168.55,177.84 L168.64,177.45 L168.72,177.06 L168.80,176.67 L168.88,176.27 L168.97,175.88 L169.05,175.49 L169.13,175.10 L169.21,174.71 L169.29,174.32 L169.38,173.92 L169.46,173.53 L169.54,173.14 L169.62,172.75 L169.70,172.36 L169.78,171.97 L169.86,171.57 L169.94,171.18 L170.02,170.79 L170.10,170.40 L170.18,170.01 L170.26,169.61 L170.34,169.22 L170.41,168.83 L170.49,168.44 L170.57,168.04 L170.65,167.65 L170.73,167.26 L170.80,166.87 L170.88,166.47 L170.96,166.08 L171.04,165.69 L171.11,165.29 L171.19,164.90 L171.27,164.51 L171.34,164.12 L171.42,163.72 L171.50,163.33 L171.57,162.94 L171.65,162.54 L171.72,162.15 L171.80,161.76 L171.87,161.36 L171.95,160.97 L172.02,160.58 L172.10,160.18 L172.17,159.79 L172.25,159.40 L172.32,159.00 L172.39,158.61 L172.47,158.22 L172.54,157.82 L172.61,157.43 L172.69,157.04 L172.76,156.64 L172.83,156.25 L172.90,155.85 L172.98,155.46 L173.05,155.07 L173.12,154.67 L173.19,154.28 L173.26,153.89 L173.33,153.49 L173.40,153.10 L173.47,152.70 L173.55,152.31 L173.62,151.91 L173.69,151.52 L173.76,151.13 L173.83,150.73 L173.90,150.34 L173.96,149.94 L174.03,149.55 L174.10,149.15 L174.17,148.76 L174.24,148.37 L174.31,147.97 L174.38,147.58 L174.44,147.18 L174.51,146.79 L174.58,146.39 L174.65,146.00 L174.71,145.60 L174.78,145.21 L174.85,144.82 L174.91,144.42 L174.98,144.03 L175.05,143.63 L175.11,143.24 L175.18,142.84 L175.24,142.45 L175.31,142.05 L175.37,141.66 L175.44,141.26 L175.50,140.87 L175.57,140.47 L175.63,140.08 L175.70,139.68 L175.76,139.29 L175.82,138.89 L175.89,138.50 L175.95,138.10 L176.01,137.71 L176.08,137.31 L176.14,136.92 L176.20,136.52 L176.26,136.13 L176.32,135.73 L176.39,135.34 L176.45,134.94 L176.51,134.55 L176.57,134.15 L176.63,133.76 L176.69,133.36 L176.75,132.97 L176.81,132.57 L176.87,132.18 L176.93,131.78 L176.99,131.39 L177.05,130.99 L177.11,130.60 L177.17,130.20 L177.23,129.81 L177.29,129.41 L177.35,129.01 L177.40,128.62 L177.46,128.22 L177.52,127.83 L177.57,127.43 L177.63,127.04 L177.68,126.64 L177.74,126.24 L177.79,125.85 L177.85,125.45 L177.90,125.06 L177.95,124.66 L178.01,124.26 L178.06,123.87 L178.11,123.47 L178.16,123.07 L178.22,122.68 L178.27,122.28 L178.32,121.88 L178.37,121.49 L178.42,121.09 L178.47,120.69 L178.52,120.30 L178.57,119.90 L178.62,119.50 L178.67,119.10 L178.72,118.71 L178.77,118.31 L178.82,117.91 L178.87,117.52 L178.92,117.12 L178.97,116.72 L179.02,116.32 L179.07,115.93 L179.12,115.53 L179.16,115.13 L179.21,114.74 L179.26,114.34 L179.31,113.94 L179.36,113.54 L179.41,113.15 L179.46,112.75 L179.51,112.35 L179.56,111.96 L179.61,111.56 L179.65,111.16 L179.70,110.77 L179.75,110.37 L179.80,109.97 L179.85,109.57 L179.90,109.18 L179.95,108.78 L180.00,108.38 L180.05,107.99 L180.10,107.59 L180.15,107.19 L180.20,106.80 L180.25,106.40 L180.30,106.00 L180.35,105.61 L180.39,105.21 L180.44,104.81 L180.49,104.41 L180.54,104.02 L180.59,103.62 L180.64,103.22 L180.68,102.83 L180.73,102.43 L180.78,102.03 L180.83,101.63 L180.88,101.24 L180.93,100.84 L180.97,100.44 L181.02,100.05 L181.07,99.65 L181.12,99.25 L181.16,98.85 L181.21,98.46 L181.26,98.06 L181.31,97.66 L181.36,97.27 L181.40,96.87 L181.45,96.47 L181.50,96.07 L181.55,95.68 L181.59,95.28 L181.64,94.88 L181.69,94.49 L181.74,94.09 L181.78,93.69 L181.83,93.29 L181.88,92.90 L181.92,92.50 L181.97,92.10 L182.02,91.71 L182.07,91.31 L182.11,90.91 L182.16,90.51 L182.21,90.12 L182.26,89.72 L182.30,89.32 L182.35,88.92 L182.40,88.53 L182.44,88.13 L182.49,87.73 L182.54,87.34 L182.58,86.94 L182.62,86.54 L182.67,86.14 L182.71,85.74 L182.76,85.35 L182.80,84.95 L182.84,84.55 L182.88,84.15 L182.93,83.75 L182.97,83.36 L183.01,82.96 L183.06,82.56 L183.10,82.16 L183.14,81.76 L183.19,81.37 L183.23,80.97 L183.28,80.57 L183.32,80.17 L183.37,79.78 L183.42,79.38 L183.46,78.98 L183.51,78.59 L183.56,78.19 L183.61,77.79 L183.66,77.40 L183.72,77.00 L183.77,76.60 L183.83,76.21 L183.88,75.81 L183.94,75.42 L184.00,75.02 L184.06,74.63 L184.13,74.23 L184.19,73.84 L184.26,73.45 L184.33,73.05 L184.40,72.66 L184.47,72.26 L184.54,71.87 L184.61,71.48 L184.69,71.08 L184.76,70.69 L184.84,70.30 L184.92,69.90 L185.00,69.51 L185.08,69.12 L185.16,68.73 L185.24,68.34 L185.33,67.94 L185.41,67.55 L185.50,67.16 L185.58,66.77 L185.67,66.38 L185.76,65.99 L185.86,65.60 L185.95,65.22 L186.05,64.83 L186.15,64.44 L186.26,64.05 L186.37,63.67 L186.48,63.28 L186.59,62.86 L186.71,62.37 L186.84,61.88 L186.96,61.47 L187.09,61.23 L187.21,61.24 L187.34,61.49 L187.47,61.90 L187.59,62.39 L187.71,62.89 L187.83,63.30 L187.95,63.68 L188.07,64.07 L188.18,64.45 L188.30,64.83 L188.41,65.22 L188.52,65.60 L188.62,65.99 L188.72,66.38 L188.81,66.76 L188.91,67.15 L189.00,67.54 L189.08,67.93 L189.17,68.32 L189.26,68.71 L189.35,69.10 L189.43,69.50 L189.51,69.89 L189.59,70.28 L189.67,70.67 L189.75,71.07 L189.83,71.46 L189.90,71.85 L189.97,72.25 L190.04,72.64 L190.11,73.04 L190.18,73.43 L190.24,73.83 L190.30,74.22 L190.36,74.62 L190.41,75.01 L190.46,75.41 L190.51,75.81 L190.56,76.20 L190.60,76.60 L190.65,76.99 L190.69,77.39 L190.73,77.79 L190.77,78.19 L190.81,78.58 L190.85,78.98 L190.89,79.38 L190.92,79.78 L190.96,80.18 L190.99,80.57 L191.03,80.97 L191.06,81.37 L191.09,81.77 L191.12,82.17 L191.16,82.57 L191.19,82.97 L191.22,83.37 L191.25,83.77 L191.28,84.17 L191.31,84.57 L191.34,84.97 L191.37,85.37 L191.39,85.76 L191.42,86.16 L191.45,86.56 L191.48,86.96 L191.51,87.36 L191.54,87.76 L191.57,88.16 L191.60,88.56 L191.64,88.96 L191.67,89.36 L191.70,89.76 L191.72,90.15 L191.75,90.55 L191.78,90.95 L191.81,91.35 L191.84,91.75 L191.87,92.15 L191.89,92.55 L191.92,92.95 L191.95,93.35 L191.98,93.75 L192.00,94.15 L192.03,94.54 L192.06,94.94 L192.08,95.34 L192.11,95.74 L192.13,96.14 L192.16,96.54 L192.18,96.94 L192.21,97.34 L192.24,97.74 L192.26,98.14 L192.29,98.54 L192.31,98.94 L192.34,99.34 L192.36,99.73 L192.39,100.13 L192.42,100.53 L192.44,100.93 L192.47,101.33 L192.49,101.73 L192.52,102.13 L192.55,102.53 L192.57,102.93 L192.60,103.33 L192.63,103.73 L192.66,104.13 L192.68,104.52 L192.71,104.92 L192.74,105.32 L192.77,105.72 L192.80,106.12 L192.83,106.52 L192.86,106.92 L192.89,107.32 L192.92,107.72 L192.95,108.11 L192.98,108.51 L193.01,108.91 L193.04,109.31 L193.08,109.71 L193.11,110.11 L193.14,110.50 L193.18,110.90 L193.21,111.30 L193.25,111.70 L193.29,112.10 L193.33,112.50 L193.36,112.89 L193.40,113.29 L193.44,113.69 L193.49,114.09 L193.53,114.49 L193.57,114.88 L193.61,115.28 L193.65,115.68 L193.70,116.08 L193.74,116.47 L193.78,116.87 L193.83,117.27 L193.87,117.67 L193.92,118.06 L193.96,118.46 L194.01,118.86 L194.05,119.26 L194.10,119.65 L194.14,120.05 L194.19,120.45 L194.23,120.85 L194.28,121.25 L194.32,121.64 L194.37,122.04 L194.41,122.44 L194.46,122.84 L194.50,123.23 L194.55,123.63 L194.59,124.03 L194.64,124.43 L194.68,124.82 L194.72,125.22 L194.77,125.62 L194.81,126.02 L194.85,126.41 L194.89,126.81 L194.93,127.21 L194.97,127.61 L195.01,128.01 L195.05,128.40 L195.09,128.80 L195.13,129.20 L195.16,129.60 L195.20,130.00 L195.24,130.40 L195.27,130.79 L195.30,131.19 L195.34,131.59 L195.37,131.99 L195.41,132.39 L195.44,132.79 L195.47,133.19 L195.51,133.58 L195.54,133.98 L195.57,134.38 L195.60,134.78 L195.63,135.18 L195.66,135.58 L195.69,135.98 L195.72,136.38 L195.75,136.78 L195.78,137.18 L195.81,137.57 L195.84,137.97 L195.87,138.37 L195.90,138.77 L195.93,139.17 L195.96,139.57 L195.98,139.97 L196.01,140.37 L196.04,140.77 L196.07,141.17 L196.09,141.57 L196.12,141.97 L196.15,142.37 L196.17,142.77 L196.20,143.17 L196.22,143.57 L196.25,143.97 L196.28,144.37 L196.30,144.77 L196.33,145.17 L196.35,145.57 L196.38,145.97 L196.40,146.37 L196.43,146.77 L196.45,147.17 L196.48,147.57 L196.50,147.97 L196.53,148.37 L196.55,148.77 L196.57,149.17 L196.60,149.57 L196.62,149.97 L196.65,150.37 L196.67,150.77 L196.69,151.17 L196.72,151.57 L196.74,151.97 L196.77,152.37 L196.79,152.77 L196.81,153.17 L196.84,153.57 L196.86,153.97 L196.89,154.37 L196.91,154.77 L196.93,155.17 L196.96,155.57 L196.98,155.97 L197.01,156.37 L197.03,156.77 L197.05,157.17 L197.08,157.57 L197.10,157.97 L197.13,158.37 L197.15,158.77 L197.18,159.17 L197.20,159.57 L197.22,159.97 L197.25,160.37 L197.27,160.77 L197.30,161.17 L197.33,161.57 L197.35,161.97 L197.38,162.37 L197.40,162.77 L197.43,163.17 L197.45,163.56 L197.48,163.96 L197.51,164.36 L197.53,164.76 L197.56,165.16 L197.59,165.56 L197.61,165.96 L197.64,166.36 L197.67,166.76 L197.70,167.16 L197.73,167.56 L197.75,167.96 L197.78,168.35 L197.81,168.75 L197.84,169.15 L197.87,169.55 L197.90,169.95 L197.93,170.35 L197.96,170.75 L197.99,171.15 L198.02,171.54 L198.05,171.94 L198.08,172.34 L198.12,172.74 L198.15,173.14 L198.18,173.54 L198.21,173.93 L198.25,174.33 L198.28,174.73 L198.31,175.13 L198.35,175.52 L198.38,175.92 L198.42,176.32 L198.45,176.72 L198.49,177.11 L198.53,177.51 L198.56,177.91 L198.60,178.31 L198.64,178.70 L198.68,179.10 L198.71,179.50 L198.75,179.89 L198.79,180.29 L198.83,180.69 L198.87,181.08 L198.91,181.48 L198.96,181.88 L199.00,182.27 L199.04,182.67 L199.08,183.07 L199.13,183.46 L199.17,183.86 L199.21,184.25 L199.26,184.65 L199.31,185.04 L199.35,185.44 L199.40,185.83 L199.45,186.23 L199.51,186.62 L199.56,187.02 L199.62,187.41 L199.68,187.81 L199.74,188.20 L199.80,188.60 L199.87,188.99 L199.94,189.38 L200.00,189.78 L200.07,190.17 L200.14,190.57 L200.22,190.96 L200.29,191.35 L200.36,191.74 L200.44,192.14 L200.52,192.53 L200.59,192.92 L200.67,193.32 L200.75,193.71 L200.83,194.10 L200.91,194.49 L200.99,194.89 L201.08,195.28 L201.16,195.67 L201.24,196.06 L201.32,196.46 L201.41,196.85 L201.49,197.24 L201.58,197.63 L201.66,198.03 L201.74,198.42 L201.83,198.81 L201.91,199.20 L201.99,199.59 L202.08,199.99 L202.16,200.38 L202.24,200.77 L202.32,201.16 L202.41,201.55 L202.49,201.95 L202.57,202.34 L202.65,202.73 L202.72,203.12 L202.80,203.52 L202.88,203.91 L202.96,204.30 L203.03,204.70 L203.11,205.09 L203.18,205.48 L203.26,205.88 L203.33,206.27 L203.41,206.67 L203.48,207.06 L203.55,207.46 L203.63,207.85 L203.70,208.25 L203.77,208.64 L203.85,209.04 L203.92,209.43 L204.00,209.83 L204.07,210.22 L204.15,210.62 L204.22,211.01 L204.30,211.41 L204.38,211.80 L204.45,212.19 L204.53,212.59 L204.61,212.98 L204.69,213.37 L204.77,213.77 L204.85,214.16 L204.93,214.55 L205.02,214.94 L205.10,215.33 L205.18,215.73 L205.27,216.12 L205.36,216.50 L205.45,216.89 L205.54,217.28 L205.63,217.67 L205.72,218.06 L205.82,218.44 L205.92,218.83 L206.02,219.21 L206.12,219.60 L206.22,219.98 L206.32,220.36 L206.43,220.74 L206.54,221.12 L206.64,221.51 L206.76,221.89 L206.87,222.28 L206.98,222.67 L207.10,223.06 L207.22,223.45 L207.34,223.84 L207.47,224.24 L207.59,224.63 L207.72,225.03 L207.85,225.42 L207.98,225.82 L208.12,226.21 L208.26,226.60 L208.40,226.99 L208.54,227.38 L208.69,227.77 L208.83,228.15 L208.99,228.53 L209.14,228.91 L209.30,229.29 L209.46,229.66 L209.62,230.03 L209.79,230.39 L209.96,230.75 L210.14,231.11 L210.31,231.46 L210.49,231.80 L210.68,232.14 L210.87,232.47 L211.06,232.80 L211.25,233.12 L211.45,233.43 L211.66,233.73 L211.87,234.03 L212.09,234.33 L212.32,234.63 L212.57,234.93 L212.83,235.23 L213.10,235.52 L213.38,235.81 L213.66,236.10 L213.96,236.39 L214.27,236.67 L214.58,236.95 L214.89,237.22 L215.22,237.49 L215.55,237.75 L215.88,238.01 L216.22,238.26 L216.56,238.50 L216.90,238.74 L217.25,238.97 L217.59,239.19 L217.94,239.40 L218.28,239.60 L218.63,239.80 L218.97,239.98 L219.32,240.16 L219.66,240.33 L220.00,240.49 L220.35,240.66 L220.71,240.82 L221.07,240.98 L221.44,241.14 L221.80,241.30 L222.18,241.45 L222.55,241.61 L222.93,241.76 L223.31,241.90 L223.70,242.04 L224.08,242.18 L224.47,242.31 L224.86,242.44 L225.25,242.57 L225.64,242.68 L226.04,242.80 L226.43,242.90 L226.83,243.00 L227.22,243.10 L227.62,243.18 L228.01,243.26 L228.41,243.33 L228.80,243.40 L229.19,243.45 L229.58,243.50 L229.97,243.54 L230.36,243.58 L230.75,243.62 L231.15,243.66 L231.54,243.70 L231.94,243.74 L232.33,243.78 L232.73,243.81 L233.13,243.85 L233.53,243.88 L233.92,243.91 L234.32,243.95 L234.72,243.98 L235.12,244.01 L235.53,244.04 L235.93,244.06 L236.33,244.09 L236.73,244.12 L237.13,244.14 L237.53,244.16 L237.94,244.18 L238.34,244.20 L238.74,244.22 L239.14,244.23 L239.55,244.25 L239.95,244.26 L240.35,244.27 L240.75,244.28 L241.15,244.29 L241.56,244.29 L241.96,244.30 L242.36,244.30 L242.76,244.30 L243.15,244.30 L243.55,244.30 L243.95,244.30 L244.35,244.29 L244.75,244.29 L245.15,244.29 L245.55,244.28 L245.95,244.28 L246.35,244.27 L246.75,244.27 L247.15,244.26 L247.55,244.26 L247.95,244.25 L248.35,244.24 L248.75,244.24 L249.15,244.23 L249.55,244.22 L249.95,244.21 L250.35,244.20 L250.75,244.19 L251.15,244.18 L251.55,244.17 L251.95,244.16 L252.35,244.15 L252.75,244.14 L253.15,244.13 L253.55,244.12 L253.95,244.11 L254.35,244.10 L254.75,244.08 L255.15,244.07 L255.55,244.06 L255.95,244.05 L256.35,244.03 L256.75,244.02 L257.15,244.01 L257.55,243.99 L257.95,243.98 L258.35,243.97 L258.75,243.95 L259.15,243.94 L259.55,243.92 L259.95,243.91 L260.35,243.90 L260.75,243.88 L261.15,243.87 L261.55,243.85 L261.95,243.84 L262.35,243.82 L262.75,243.81 L263.15,243.79 L263.55,243.78 L263.95,243.76 L264.35,243.74 L264.75,243.72 L265.15,243.70 L265.55,243.68 L265.94,243.65 L266.34,243.63 L266.74,243.60 L267.14,243.57 L267.54,243.55 L267.94,243.52 L268.34,243.49 L268.74,243.46 L269.14,243.43 L269.54,243.39 L269.93,243.36 L270.33,243.33 L270.73,243.30 L271.13,243.26 L271.53,243.23 L271.93,243.20 L272.33,243.16 L272.73,243.13 L273.13,243.09 L273.52,243.06 L273.92,243.03 L274.32,242.99 L274.72,242.96 L275.12,242.93 L275.52,242.90 L275.92,242.86 L276.32,242.83 L276.72,242.80 L277.11,242.77 L277.51,242.75 L277.91,242.72 L278.31,242.69 L278.71,242.66 L279.11,242.64 L279.51,242.62 L279.91,242.59 L280.31,242.57 L280.71,242.55 L281.11,242.54 L281.51,242.52 L281.91,242.50 L282.30,242.49 L282.70,242.48 L283.10,242.46 L283.50,242.45 L283.90,242.44 L284.30,242.43 L284.70,242.42 L285.10,242.40 L285.50,242.39 L285.90,242.38 L286.30,242.37 L286.70,242.36 L287.10,242.35 L287.50,242.35 L287.90,242.34 L288.30,242.33 L288.70,242.32 L289.10,242.31 L289.50,242.30 L289.90,242.30 L290.30,242.29 L290.70,242.28 L291.10,242.27 L291.50,242.27 L291.90,242.26 L292.30,242.25 L292.70,242.24 L293.10,242.24 L293.50,242.23 L293.90,242.22 L294.30,242.21 L294.70,242.21 L295.10,242.20 L295.50,242.19 L295.90,242.19 L296.30,242.18 L296.70,242.17 L297.10,242.16 L297.50,242.15 L297.90,242.15 L298.30,242.14 L298.70,242.13 L299.10,242.12 L299.50,242.11 L299.90,242.10 L300.30,242.09 L300.70,242.08 L301.10,242.07 L301.50,242.06 L301.90,242.05 L302.30,242.04 L302.70,242.03 L303.10,242.02 L303.50,242.01 L303.90,241.99 L304.30,241.98 L304.70,241.97 L305.10,241.95 L305.50,241.94 L305.90,241.92 L306.30,241.91 L306.70,241.89 L307.10,241.87 L307.50,241.86 L307.90,241.84 L308.29,241.82 L308.69,241.80 L309.09,241.78 L309.49,241.77 L309.89,241.75 L310.29,241.73 L310.69,241.71 L311.09,241.69 L311.49,241.67 L311.89,241.64 L312.29,241.62 L312.69,241.60 L313.09,241.58 L313.49,241.56 L313.89,241.54 L314.29,241.51 L314.69,241.49 L315.09,241.47 L315.49,241.45 L315.88,241.42 L316.28,241.40 L316.68,241.38 L317.08,241.35 L317.48,241.33 L317.88,241.31 L318.28,241.29 L318.68,241.26 L319.08,241.24 L319.48,241.22 L319.88,241.19 L320.28,241.17 L320.68,241.15 L321.08,241.12 L321.48,241.10 L321.88,241.08 L322.28,241.06 L322.67,241.03 L323.07,241.01 L323.47,240.99 L323.87,240.97 L324.27,240.95 L324.67,240.92 L325.07,240.90 L325.47,240.88 L325.87,240.86 L326.27,240.84 L326.67,240.82 L327.07,240.80 L327.47,240.78 L327.87,240.76 L328.27,240.75 L328.67,240.73 L329.07,240.71 L329.47,240.69 L329.87,240.68 L330.27,240.66 L330.66,240.64 L331.06,240.62 L331.46,240.61 L331.86,240.59 L332.26,240.57 L332.66,240.56 L333.06,240.54 L333.46,240.52 L333.86,240.51 L334.26,240.49 L334.66,240.47 L335.06,240.46 L335.46,240.44 L335.86,240.42 L336.26,240.41 L336.66,240.39 L337.06,240.37 L337.46,240.36 L337.86,240.34 L338.26,240.32 L338.66,240.31 L339.06,240.29 L339.46,240.28 L339.86,240.26 L340.26,240.24 L340.66,240.23 L341.06,240.21 L341.46,240.20 L341.85,240.18 L342.25,240.16 L342.65,240.15 L343.05,240.13 L343.45,240.12 L343.85,240.10 L344.25,240.09 L344.65,240.07 L345.05,240.06 L345.45,240.04 L345.85,240.02 L346.25,240.01 L346.65,239.99 L347.05,239.98 L347.45,239.96 L347.85,239.95 L348.25,239.93 L348.65,239.92 L349.05,239.91 L349.45,239.89 L349.85,239.88 L350.25,239.86 L350.65,239.85 L351.05,239.83 L351.45,239.82 L351.85,239.80 L352.25,239.79 L352.65,239.78 L353.05,239.76 L353.45,239.75 L353.85,239.73 L354.25,239.72 L354.65,239.71 L355.05,239.69 L355.45,239.68 L355.85,239.67 L356.25,239.65 L356.65,239.64 L357.05,239.63 L357.44,239.61 L357.84,239.60 L358.24,239.59 L358.64,239.57 L359.04,239.56 L359.44,239.55 L359.84,239.54 L360.24,239.52 L360.64,239.51 L361.04,239.50 L361.44,239.49 L361.84,239.47 L362.24,239.46 L362.64,239.45 L363.04,239.44 L363.44,239.43 L363.84,239.41 L364.24,239.40 L364.30,239.40" stroke="#000" stroke-width="2.45" stroke-dasharray="3.0 1.9 6.6 1.9" stroke-dashoffset="0"/>
</g>
<g stroke="#666" stroke-width="0.6" fill="none">
<path d="M56.050000000000004,8.4H374" stroke="#646464" stroke-width="0.85"/>
<path d="M56.35,8.4V262.15000000000003" stroke="#707070" stroke-width="0.75"/>
<path d="M56.050000000000004,261.85H374" stroke="#707070" stroke-width="0.75"/>
<path d="M373.1,8.4V261.85" stroke="#c8c8c8" stroke-width="1.8"/>
<path d="M62.45,261.85v-2.8M62.45,8.4v2.8M74.61,261.85v-1.8M74.61,8.4v1.8M86.77,261.85v-1.8M86.77,8.4v1.8M98.93,261.85v-1.8M98.93,8.4v1.8M111.09,261.85v-1.8M111.09,8.4v1.8M123.25,261.85v-2.8M123.25,8.4v2.8M135.41,261.85v-1.8M135.41,8.4v1.8M147.57,261.85v-1.8M147.57,8.4v1.8M159.73,261.85v-1.8M159.73,8.4v1.8M171.89,261.85v-1.8M171.89,8.4v1.8M184.05,261.85v-2.8M184.05,8.4v2.8M196.21,261.85v-1.8M196.21,8.4v1.8M208.37,261.85v-1.8M208.37,8.4v1.8M220.53,261.85v-1.8M220.53,8.4v1.8M232.69,261.85v-1.8M232.69,8.4v1.8M244.85,261.85v-2.8M244.85,8.4v2.8M257.01,261.85v-1.8M257.01,8.4v1.8M269.17,261.85v-1.8M269.17,8.4v1.8M281.33,261.85v-1.8M281.33,8.4v1.8M293.49,261.85v-1.8M293.49,8.4v1.8M305.65,261.85v-2.8M305.65,8.4v2.8M317.81,261.85v-1.8M317.81,8.4v1.8M329.97,261.85v-1.8M329.97,8.4v1.8M342.13,261.85v-1.8M342.13,8.4v1.8M354.29,261.85v-1.8M354.29,8.4v1.8M366.45,261.85v-2.8M366.45,8.4v2.8M56.35,261.80h2.8M372.6,261.80h-2.8M56.35,249.14h1.8M372.6,249.14h-1.8M56.35,236.47h1.8M372.6,236.47h-1.8M56.35,223.81h1.8M372.6,223.81h-1.8M56.35,211.14h1.8M372.6,211.14h-1.8M56.35,198.48h2.8M372.6,198.48h-2.8M56.35,185.81h1.8M372.6,185.81h-1.8M56.35,173.14h1.8M372.6,173.14h-1.8M56.35,160.48h1.8M372.6,160.48h-1.8M56.35,147.81h1.8M372.6,147.81h-1.8M56.35,135.15h2.8M372.6,135.15h-2.8M56.35,122.48h1.8M372.6,122.48h-1.8M56.35,109.82h1.8M372.6,109.82h-1.8M56.35,97.16h1.8M372.6,97.16h-1.8M56.35,84.49h1.8M372.6,84.49h-1.8M56.35,71.82h2.8M372.6,71.82h-2.8M56.35,59.16h1.8M372.6,59.16h-1.8M56.35,46.49h1.8M372.6,46.49h-1.8M56.35,33.83h1.8M372.6,33.83h-1.8M56.35,21.16h1.8M372.6,21.16h-1.8M56.35,8.50h2.8M372.6,8.50h-2.8" stroke-width="0.8"/>
</g>
<g font-family="Liberation Sans, sans-serif" font-size="14" fill="#646464">
<text x="62.45" y="278.2" text-anchor="middle">0</text>
<text x="123.25" y="278.2" text-anchor="middle">1</text>
<text x="184.05" y="278.2" text-anchor="middle">2</text>
<text x="244.85" y="278.2" text-anchor="middle">3</text>
<text x="305.65" y="278.2" text-anchor="middle">4</text>
<text x="366.45" y="278.2" text-anchor="middle">5</text>
<text x="53.0" y="266.50" text-anchor="end">0.0</text>
<text x="53.0" y="203.18" text-anchor="end">0.5</text>
<text x="53.0" y="139.85" text-anchor="end">1.0</text>
<text x="53.0" y="76.22" text-anchor="end">1.5</text>
<text x="53.0" y="13.20" text-anchor="end">2.0</text>
</g>
<g font-family="Liberation Sans, sans-serif" font-style="italic" fill="#646464">
<text x="185.4" y="306" font-size="20.5">n<tspan font-size="15" dy="4" dx="0.2">N</tspan><tspan dy="-4" dx="0.8" font-style="normal">(</tspan><tspan dx="1.3">ρ</tspan><tspan font-size="15" dy="4" dx="0" font-style="normal">0</tspan><tspan dy="-4" dx="0.4" font-style="normal">)</tspan></text>
<g transform="translate(21.7,144.5) rotate(-90)"><text x="0" y="0" font-size="20.5">v<tspan font-size="15" dy="5.3">s</tspan></text><text x="9.8" y="-9.7" font-size="15" font-style="normal">2</text></g>
</g>
<g fill="none" stroke-linecap="butt">
<path d="M244,71.8H274" stroke="#000" stroke-width="1.5" stroke-dasharray="2.6 2.9 5.9 2.3"/>
<path d="M244,109.7H275" stroke="#ff0000" stroke-width="1.5" stroke-dasharray="5.8 2.6"/>
<path d="M244,147.9H273.2" stroke="#0000ff" stroke-width="1.6" stroke-dasharray="2.9 2.3"/>
</g>
<g font-family="Liberation Sans, sans-serif" font-size="12.4" fill="#000">
<text x="280" y="38.8"><tspan font-style="italic">n</tspan><tspan font-size="9.8" dy="1.6">0</tspan><tspan dy="-1.6" dx="1.3">=2.5</tspan><tspan font-style="italic">ρ</tspan><tspan font-size="9.8" dy="1.6">0</tspan></text>
<text x="287.3" y="75.90">Λ=0.1 GeV</text>
<text x="287.3" y="113.95">Λ=0.2 GeV</text>
<text x="287.3" y="152.00">Λ=0.3 GeV</text>
</g>
</svg>
</body></html>
